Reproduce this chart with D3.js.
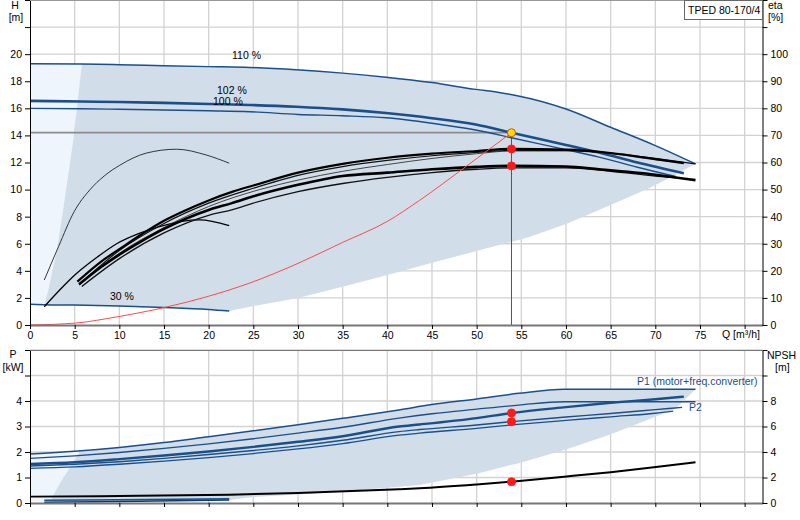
<!DOCTYPE html>
<html>
<head>
<meta charset="utf-8">
<script src="https://cdn.jsdelivr.net/npm/d3@7"></script>
<style>
  body { margin: 0; background: #fff; }
  svg { font-family: "Liberation Sans", Arial, sans-serif; font-size: 10.5px; }
  .tick text { fill: #000; }
</style>
</head>
<body>
<svg width="800" height="520"></svg>
<script>
// ---- data: Q [m3/h] vs H [m] (top), P [kW] / NPSH [m] (bottom) ----
var qTicks = [0, 5, 10, 15, 20, 25, 30, 35, 40, 45, 50, 55, 60, 65, 70, 75, 80];
var hTicks = [0, 2, 4, 6, 8, 10, 12, 14, 16, 18, 20, 22, 24];
var etaTicks = [0, 10, 20, 30, 40, 50, 60, 70, 80, 90, 100, 110, 120];
var pTicks = [0, 1, 2, 3, 4, 5, 6];
var npshTicks = [0, 2, 4, 6, 8, 10, 12];

var h110 = [[0,19.3],[5.8,19.27],[10,19.22],[15,19.15],[20,19.08],[24.6,19.02],[29.8,18.85],[35,18.6],[39.85,18.3],[45,17.9],[49.9,17.4],[52.5,17.17],[54.4,16.95],[60,15.95],[65,14.6],[70,13.25],[74.5,11.9]];
var h102 = [[0,16.55],[5.8,16.5],[10,16.47],[15,16.4],[20,16.32],[24.6,16.25],[29.8,16.12],[35,15.92],[39.85,15.65],[45,15.27],[49.9,14.8],[53.9,14.2],[60,13.3],[63.7,12.74],[68,12.0],[73.2,11.2]];
var h100 = [[0,16.0],[5.8,15.97],[10,15.93],[15,15.88],[20,15.82],[24.6,15.75],[30,15.55],[35,15.45],[39.85,15.3],[45,14.9],[49.9,14.4],[54.4,13.75],[60,12.95],[63.7,12.4],[68,11.65],[72.3,10.96]];
var h30 = [[0,1.53],[1.6,1.5],[5,1.47],[10,1.4],[15,1.3],[20,1.15],[22.3,1.03]];
var hSystem = [[0,0],[5.2,0.15],[9.7,0.6],[15.3,1.33],[19.7,2.07],[24.6,3.1],[30,4.55],[35,6.1],[40,7.65],[43.6,9.2],[48.8,11.7],[53.9,14.2]];

// efficiency curves (plotted on the eta axis, values in %)
var etaPump1 = [[5.3,16],[8,23.5],[10,28],[12.5,33.5],[15,38.5],[17,41.75],[20,46],[22.7,49.25],[25,51.5],[30,56.25],[35,59.5],[40,61.75],[45,63.25],[50,64.25],[53.9,65],[60,64.75],[65,63.5],[70,61.25],[73.2,59.75]];
var etaPump2 = [[5.5,15],[10,27.5],[15,37.5],[20,45],[25,50.5],[30,55.25],[35,58.5],[40,60.75],[45,62.5],[50,63.75],[53.9,64.5],[60,64.5],[65,63.5],[70,61.5],[74.5,59.5]];
var etaPump3 = [[5.5,14.75],[10,26.5],[15,36],[20,43.75],[25.7,50],[30,53.5],[35,56.75],[40,59.25],[45,61.5],[50,63.25],[53.9,64.25],[60,64.25],[65,63.25],[70,61],[73,60]];
var etaTot1 = [[5.5,15],[8,21.5],[10,26],[12.5,31],[15,35.5],[20,42.5],[22.6,45],[25,47.5],[30,51.75],[35,55],[40,56.25],[45,57.5],[50,58.4],[53.9,58.75],[60,58.5],[63.7,57.5],[70,55.5],[74.5,53.5]];
var etaTot2 = [[5.8,14.25],[10,24.5],[15,34],[20,40.5],[22.6,42.5],[25,45],[30,49.25],[35,52.25],[40,54.5],[45,56.25],[50,57.5],[53.9,58],[60,58],[65,56.75],[70,55],[72.7,54.25]];
var etaPump30 = [[1.6,16.6],[3.2,29],[4.95,41.9],[6.7,49.9],[8.3,55],[10.06,59],[13,63.45],[16.4,64.9],[19.7,62.8],[22.3,59.75]];
var etaTot30 = [[1.6,6.75],[3.35,13],[5.2,19],[7.5,25],[9.7,30],[12.3,33.9],[14.5,36.35],[17,38.3],[19,38.8],[22.3,36.7]];

// operating range (shaded) in the Q-H field
var shadeLowH = [[74.5,11.9],[72,11.0],[69.3,10.1],[64.8,8.8],[60,7.45],[55.9,6.5],[52.5,5.9],[44.8,4.56],[40,3.7],[35,2.83],[30,2.0],[24.6,1.35],[22.3,1.03]];
var shadeEdgeH = [[1.6,1.5],[2.05,2.6],[3.0,5.5],[3.7,8.5],[4.84,13.65],[5.8,19.27]];

var p1_110 = [[0,1.92],[5,2.03],[10,2.18],[15,2.37],[20,2.6],[25,2.83],[30,3.07],[35,3.32],[41.3,3.65],[45,3.86],[50,4.08],[54.7,4.3],[59.8,4.46],[74.5,4.46]];
var p1_102 = [[0,1.75],[5,1.85],[10,1.98],[15,2.14],[20,2.32],[25,2.52],[30,2.74],[35,2.97],[41.3,3.33],[45,3.5],[50,3.68],[54.7,3.84],[59.8,3.97],[74.5,3.97]];
var p1_100 = [[0,1.53],[5,1.6],[10,1.72],[15,1.86],[20,2.02],[25,2.2],[30,2.4],[35,2.62],[41.3,3.0],[43.6,3.08],[50,3.33],[53.9,3.53],[60,3.76],[65,3.93],[70,4.07],[73.2,4.17]];
var p2_a = [[0,1.45],[5,1.52],[10,1.62],[15,1.75],[20,1.9],[25,2.06],[30,2.24],[35,2.46],[41.3,2.8],[43.6,2.88],[50,3.06],[53.9,3.19],[60,3.37],[65,3.51],[70,3.66],[73,3.75]];
var p2_b = [[0,1.36],[5,1.42],[10,1.52],[15,1.64],[20,1.78],[25,1.94],[30,2.12],[35,2.33],[41.3,2.66],[43.6,2.74],[50,2.93],[53.9,3.06],[60,3.24],[65,3.38],[70,3.52],[72,3.6]];
var p1_30 = [[1.6,0.11],[10,0.13],[22.3,0.17]];
var p2_30 = [[1.6,0.03],[10,0.06],[22.3,0.12]];
var npsh = [[0,0.5],[10,0.55],[22.3,0.65],[30,0.78],[41.3,1.08],[43.6,1.15],[50,1.45],[53.9,1.67],[59.8,2.06],[65,2.42],[69.6,2.78],[74.5,3.19]];

var shadeLowP = [[74.5,4.43],[72.3,3.71],[69.6,3.32],[64.8,2.67],[59.8,2.08],[54.7,1.56],[50,1.15],[43.6,0.71],[41.3,0.64],[35,0.45],[30,0.33],[24.5,0.22],[22.3,0.12],[10,0.08],[2.3,0.05]];
var shadeEdgeP = [[2.3,0.05],[2.6,0.3],[3.4,0.8],[4.2,1.25],[5.0,1.69],[5.6,2.05]];

var duty = { q: 53.9, h: 14.2, etaPump: 65, etaTot: 58.75, p1: 3.53, p2: 3.19, npsh: 1.67 };

// ---- scales ----
var x = d3.scaleLinear().domain([0, 82]).range([30, 762.5]);
var yH = d3.scaleLinear().domain([0, 24]).range([325, 0]);
var yEta = d3.scaleLinear().domain([0, 120]).range([325, 0]);
var yP = d3.scaleLinear().domain([0, 6]).range([503, 350]);
var yN = d3.scaleLinear().domain([0, 12]).range([503, 350]);

var svg = d3.select("svg");
var blue = "#1a4f8a";

function lineOn(ys) {
    return d3.line()
        .x(function (d) { return x(d[0]); })
        .y(function (d) { return ys(d[1]); })
        .curve(d3.curveMonotoneX);
}
function poly(ys, pts) {
    return "M" + pts.map(function (d) { return [x(d[0]), ys(d[1])]; }).join("L") + "Z";
}

// ---- grids ----
function grid(g, ys, vals, top, bottom) {
    g.selectAll("line.v").data(qTicks.slice(1)).join("line")
        .attr("x1", function (d) { return x(d); }).attr("x2", function (d) { return x(d); })
        .attr("y1", top).attr("y2", bottom)
        .attr("stroke", "#d2d2d2").attr("stroke-width", 1.3);
    g.selectAll("line.h").data(vals).join("line")
        .attr("x1", x(0)).attr("x2", x(82))
        .attr("y1", function (d) { return ys(d); }).attr("y2", function (d) { return ys(d); })
        .attr("stroke", "#d2d2d2").attr("stroke-width", 1.3);
}
grid(svg.append("g"), yH, hTicks.slice(1), 0, 325);
grid(svg.append("g"), yP, pTicks.slice(1), 350, 503);

// ---- shaded ranges ----
var topLight = [[0, 19.3]].concat([[5.8, 19.27]], shadeEdgeH.slice().reverse(), [[0, 1.53]]);
svg.append("path").attr("d", poly(yH, topLight)).attr("fill", "#eef5fc");
var topDark = h110.filter(function (d) { return d[0] >= 5.8; })
    .concat(shadeLowH.slice(1), h30.filter(function (d) { return d[0] > 1.6 && d[0] < 22.3; }).reverse(), shadeEdgeH);
svg.append("path").attr("d", poly(yH, topDark)).attr("fill", "#d1dde8");

var botLight = [[0, 1.92], [5, 2.03], [5.6, 2.05]].concat(shadeEdgeP.slice().reverse(), [[0, 0.05]]);
svg.append("path").attr("d", poly(yP, botLight)).attr("fill", "#eef5fc");
var botDark = [[5.6, 2.05]].concat(p1_110.filter(function (d) { return d[0] > 5.6; }), shadeLowP.slice(1), shadeEdgeP.slice(1));
svg.append("path").attr("d", poly(yP, botDark)).attr("fill", "#d1dde8");

// ---- duty point guides ----
svg.append("line").attr("x1", x(0)).attr("x2", x(duty.q))
    .attr("y1", yH(duty.h)).attr("y2", yH(duty.h))
    .attr("stroke", "#8c8c8c").attr("stroke-width", 1.8);
svg.append("line").attr("x1", x(duty.q)).attr("x2", x(duty.q))
    .attr("y1", yH(duty.h)).attr("y2", yH(0))
    .attr("stroke", "#555").attr("stroke-width", 1);

// ---- curves ----
function draw(data, ys, color, width) {
    svg.append("path").datum(data).attr("d", lineOn(ys))
        .attr("fill", "none").attr("stroke", color).attr("stroke-width", width);
}
draw(h110, yH, blue, 1.5);
draw(h102, yH, blue, 2.6);
draw(h100, yH, blue, 1.4);
draw(h30, yH, blue, 1.5);

draw(etaPump30, yEta, "#222", 0.9);
draw(etaTot30, yEta, "#000", 1.3);
draw(etaPump3, yEta, "#333", 0.9);
draw(etaPump2, yEta, "#111", 1.2);
draw(etaPump1, yEta, "#000", 2.2);
draw(etaTot2, yEta, "#111", 1.3);
draw(etaTot1, yEta, "#000", 2.6);

svg.append("path").datum(hSystem).attr("d", lineOn(yH))
    .attr("fill", "none").attr("stroke", "#ff4a4a").attr("stroke-width", 1);

draw(p1_110, yP, blue, 1.5);
draw(p1_102, yP, blue, 1.3);
draw(p1_100, yP, blue, 2.4);
draw(p2_a, yP, blue, 1.4);
draw(p2_b, yP, blue, 1.3);
draw(p1_30, yP, blue, 1.5);
draw(p2_30, yP, "#0a3a70", 1.5);
draw(npsh, yN, "#000", 2);

// ---- duty point markers ----
function dot(cx, cy, fill, stroke) {
    svg.append("circle").attr("cx", cx).attr("cy", cy).attr("r", 4)
        .attr("fill", fill).attr("stroke", stroke).attr("stroke-width", 1);
}
dot(x(duty.q), yEta(duty.etaPump), "#ff1a1a", "#ff1a1a");
dot(x(duty.q), yEta(duty.etaTot), "#ff1a1a", "#ff1a1a");
dot(x(duty.q), yH(duty.h), "#ffe000", "#e05000");
dot(x(duty.q), yP(duty.p1), "#ff1a1a", "#ff1a1a");
dot(x(duty.q), yP(duty.p2), "#ff1a1a", "#ff1a1a");
dot(x(duty.q), yN(duty.npsh), "#ff1a1a", "#ff1a1a");

// ---- axes ----
function styleAxis(g, color, width) {
    g.select(".domain").attr("stroke", color).attr("stroke-width", width);
    g.selectAll(".tick line").attr("stroke", "#000");
    g.selectAll(".tick text").attr("font-size", "10.5px").attr("font-family", "Liberation Sans, Arial, sans-serif");
}
var gxTop = svg.append("g").attr("transform", "translate(0,325)")
    .call(d3.axisBottom(x).tickValues(qTicks).tickSize(4).tickSizeOuter(0)
        .tickFormat(function (d) { return d <= 75 ? d : ""; }));
styleAxis(gxTop, "#777", 2);
var gxBot = svg.append("g").attr("transform", "translate(0,503)")
    .call(d3.axisBottom(x).tickValues(qTicks).tickSize(4).tickSizeOuter(0).tickFormat(""));
styleAxis(gxBot, "#777", 2);

var gyH = svg.append("g").attr("transform", "translate(30,0)")
    .call(d3.axisLeft(yH).tickValues(hTicks).tickSize(5).tickSizeOuter(0)
        .tickFormat(function (d) { return d <= 20 ? d : ""; }));
styleAxis(gyH, "#000", 1);
var gyEta = svg.append("g").attr("transform", "translate(762.5,0)")
    .call(d3.axisRight(yEta).tickValues(etaTicks).tickSize(5).tickSizeOuter(0)
        .tickFormat(function (d) { return d <= 100 ? d : ""; }));
styleAxis(gyEta, "#000", 1);
var gyP = svg.append("g").attr("transform", "translate(30,0)")
    .call(d3.axisLeft(yP).tickValues(pTicks).tickSize(5).tickSizeOuter(0)
        .tickFormat(function (d) { return d <= 4 ? d : ""; }));
styleAxis(gyP, "#000", 1);
var gyN = svg.append("g").attr("transform", "translate(762.5,0)")
    .call(d3.axisRight(yN).tickValues(npshTicks).tickSize(5).tickSizeOuter(0)
        .tickFormat(function (d) { return d <= 8 ? d : ""; }));
styleAxis(gyN, "#000", 1);

// frame tops
svg.append("line").attr("x1", 30).attr("x2", 762.5).attr("y1", 0.5).attr("y2", 0.5).attr("stroke", "#999");
svg.append("line").attr("x1", 30).attr("x2", 762.5).attr("y1", 350.5).attr("y2", 350.5).attr("stroke", "#777");

// ---- texts ----
function label(tx, ty, s, anchor, color) {
    svg.append("text").attr("x", tx).attr("y", ty).attr("text-anchor", anchor || "start")
        .attr("fill", color || "#000").text(s);
}
label(15, 9, "H", "middle");
label(16, 21, "[m]", "middle");
label(768, 9, "eta");
label(768, 21, "[%]");
label(13, 358, "P", "middle");
label(13, 371, "[kW]", "middle");
label(767, 359, "NPSH");
label(775, 371, "[m]");
label(722, 338, "Q [m\u00b3/h]");

label(232, 59, "110 %");
label(217, 94, "102 %");
label(213, 105, "100 %");
label(110, 300, "30 %");
label(637, 385, "P1 (motor+freq.converter)", "start", blue);
label(689, 411, "P2", "start", blue);

svg.append("rect").attr("x", 684.5).attr("y", 0.5).attr("width", 78).attr("height", 19)
    .attr("fill", "#fff").attr("stroke", "#666");
label(688, 14, "TPED 80-170/4");
</script>
</body>
</html>
